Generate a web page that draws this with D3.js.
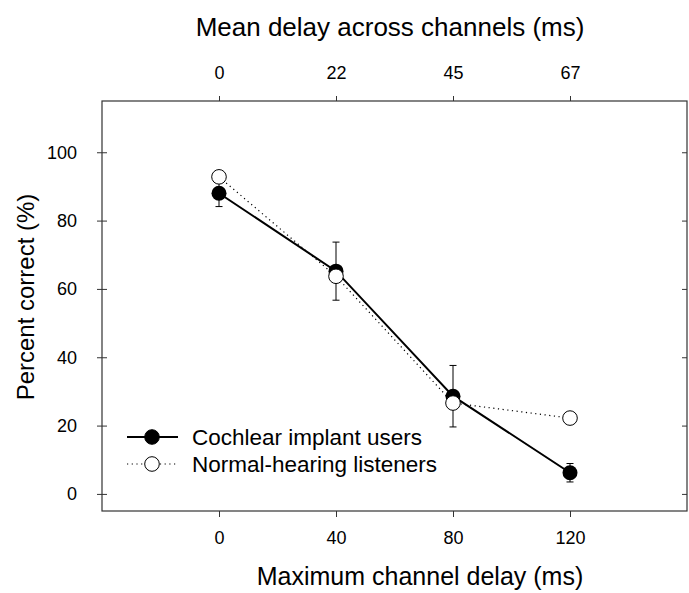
<!DOCTYPE html>
<html>
<head>
<meta charset="utf-8">
<script src="https://cdn.jsdelivr.net/npm/d3@7"></script>
<style>
  html, body { margin: 0; padding: 0; background: #fff; }
  svg { display: block; font-family: "Liberation Sans", Arial, sans-serif; }
</style>
</head>
<body>
<svg id="chart" width="689" height="593"></svg>
<script>
// data
const maxDelay = [0, 40, 80, 120];           // bottom axis ticks / x of points
const meanDelayLabels = ['0', '22', '45', '67']; // top axis labels
const yTicks = [0, 20, 40, 60, 80, 100];
const ciMean = [88, 65.2, 28.6, 6.2];         // Cochlear implant users
const ciErr = [3.9, 8.5, 9.0, 2.7];
const nhMean = [92.8, 63.7, 26.6, 22.2];      // Normal-hearing listeners

const frame = { left: 102, right: 687, top: 101, bottom: 511 };

const svg = d3.select('#chart');

const x = d3.scaleLinear().domain([-40, 160]).range([frame.left, frame.right]);
const y = d3.scaleLinear().domain([-5, 115]).range([frame.bottom, frame.top]);

const axisColor = '#333';

// bottom axis
const gBottom = svg.append('g')
    .attr('transform', `translate(0, ${frame.bottom})`)
    .call(d3.axisBottom(x).tickValues(maxDelay).tickSize(6).tickPadding(14).tickFormat(d3.format('d')));

// top axis
const gTop = svg.append('g')
    .attr('transform', `translate(0, ${frame.top})`)
    .call(d3.axisTop(x).tickValues(maxDelay).tickSize(5).tickPadding(17)
        .tickFormat((d, i) => meanDelayLabels[i]));

// left axis (ticks cross the frame)
const gLeft = svg.append('g')
    .attr('transform', `translate(${frame.left}, 0)`)
    .call(d3.axisLeft(y).tickValues(yTicks).tickSize(5).tickPadding(20));
gLeft.selectAll('.tick line').attr('x1', 5);

// right axis (inward ticks, no labels)
const gRight = svg.append('g')
    .attr('transform', `translate(${frame.right}, 0)`)
    .call(d3.axisLeft(y).tickValues(yTicks).tickSize(5).tickFormat(''));

[gBottom, gTop, gLeft, gRight].forEach(g => {
    g.select('.domain').remove();
    g.selectAll('.tick line').attr('stroke', axisColor).attr('stroke-width', 1);
    g.selectAll('.tick text').attr('fill', '#000').style('font-size', '18px')
        .style('font-family', '"Liberation Sans", Arial, sans-serif');
});

// frame
svg.append('rect')
    .attr('x', frame.left)
    .attr('y', frame.top)
    .attr('width', frame.right - frame.left)
    .attr('height', frame.bottom - frame.top)
    .attr('fill', 'none')
    .attr('stroke', axisColor)
    .attr('stroke-width', 1.2);

// axis titles
svg.append('text')
    .attr('x', 390).attr('y', 36)
    .attr('text-anchor', 'middle')
    .style('font-size', '26px')
    .text('Mean delay across channels (ms)');

svg.append('text')
    .attr('x', 420).attr('y', 585)
    .attr('text-anchor', 'middle')
    .style('font-size', '25px')
    .text('Maximum channel delay (ms)');

svg.append('text')
    .attr('transform', 'translate(34, 297) rotate(-90)')
    .attr('text-anchor', 'middle')
    .style('font-size', '24px')
    .text('Percent correct (%)');

const plot = svg.append('g');
const line = d3.line().x(d => x(d[0])).y(d => y(d[1]));

// cochlear implant users: error bars, line, filled markers
const ciData = maxDelay.map((d, i) => [d, ciMean[i], ciErr[i]]);
const capHalf = 3.5;

ciData.forEach(d => {
    const cx = x(d[0]);
    plot.append('line')
        .attr('x1', cx).attr('x2', cx)
        .attr('y1', y(d[1] - d[2])).attr('y2', y(d[1] + d[2]))
        .attr('stroke', '#000').attr('stroke-width', 1);
    [d[1] - d[2], d[1] + d[2]].forEach(v => {
        plot.append('line')
            .attr('x1', cx - capHalf).attr('x2', cx + capHalf)
            .attr('y1', y(v)).attr('y2', y(v))
            .attr('stroke', '#000').attr('stroke-width', 1);
    });
});

plot.append('path')
    .datum(ciData)
    .attr('d', line)
    .attr('fill', 'none')
    .attr('stroke', '#000')
    .attr('stroke-width', 2);

plot.selectAll('.ci-dot')
    .data(ciData)
    .join('circle')
    .attr('class', 'ci-dot')
    .attr('cx', d => x(d[0]))
    .attr('cy', d => y(d[1]))
    .attr('r', 7.5)
    .attr('fill', '#000');

// normal-hearing listeners: dotted line, open markers
const nhData = maxDelay.map((d, i) => [d, nhMean[i]]);

plot.append('path')
    .datum(nhData)
    .attr('d', line)
    .attr('fill', 'none')
    .attr('stroke', '#000')
    .attr('stroke-width', 1.2)
    .attr('stroke-dasharray', '1.2,3.5');

plot.selectAll('.nh-dot')
    .data(nhData)
    .join('circle')
    .attr('class', 'nh-dot')
    .attr('cx', d => x(d[0]))
    .attr('cy', d => y(d[1]))
    .attr('r', 7.3)
    .attr('fill', '#fff')
    .attr('stroke', '#000')
    .attr('stroke-width', 1);

// legend
const legend = svg.append('g');
const legendItems = [
    { label: 'Cochlear implant users', y: 437, filled: true },
    { label: 'Normal-hearing listeners', y: 464, filled: false }
];

legendItems.forEach(item => {
    legend.append('line')
        .attr('x1', 127).attr('x2', 178)
        .attr('y1', item.y).attr('y2', item.y)
        .attr('stroke', '#000')
        .attr('stroke-width', item.filled ? 2 : 1.2)
        .attr('stroke-dasharray', item.filled ? null : '1.2,3.5');
    legend.append('circle')
        .attr('cx', 152).attr('cy', item.y)
        .attr('r', 7.3)
        .attr('fill', item.filled ? '#000' : '#fff')
        .attr('stroke', '#000')
        .attr('stroke-width', 1);
    legend.append('text')
        .attr('x', 192).attr('y', item.y + 7.8)
        .style('font-size', '22.5px')
        .text(item.label);
});
</script>
</body>
</html>
